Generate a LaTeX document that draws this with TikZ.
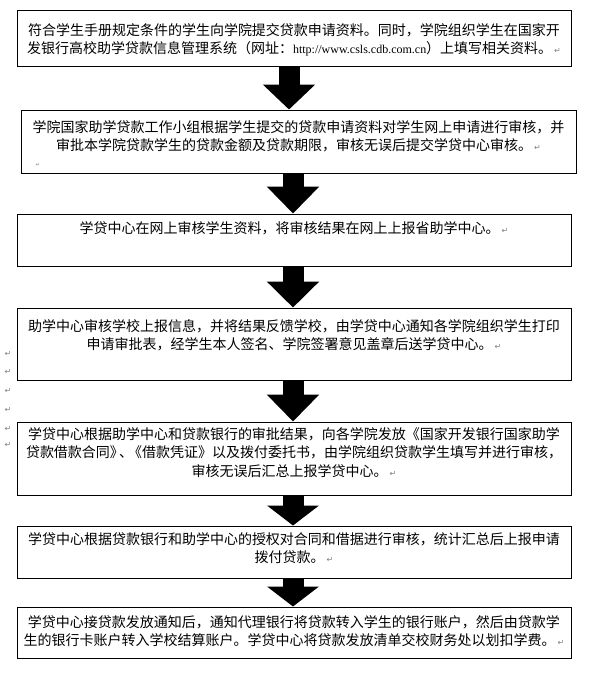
\documentclass[tikz,border=0pt]{standalone}
\usepackage{fontspec}
\setmainfont{Noto Sans CJK SC}
\newfontfamily\urlfont{Liberation Serif}
\newfontfamily\markfont{DejaVu Sans}
\usetikzlibrary{arrows.meta}
\newcommand{\rmk}{\hspace{2pt}{\markfont\fontsize{8}{8}\selectfont\color{gray}↵}}
\newcommand{\pc}{\hspace{-5pt}}
\begin{document}
\begin{tikzpicture}[x=1pt,y=-1pt,
  boxstyle/.style={draw, line width=1pt, inner sep=0pt, rectangle},
  txt/.style={align=center, font=\fontsize{14}{18.5}\selectfont, inner sep=0pt, anchor=north},
  flow/.style={line width=21pt, -{Triangle[width=51pt,length=#1]}},
  margmark/.style={inner sep=0pt, font=\markfont\fontsize{8}{8}\selectfont, text=gray}
]
\useasboundingbox[fill=white] (0,0) rectangle (591,675);
% boxes
\node[boxstyle, minimum width=554pt, minimum height=56pt] (b1) at (294,38) {};
\node[boxstyle, minimum width=555pt, minimum height=63pt] (b2) at (298.5,141.5) {};
\node[boxstyle, minimum width=554pt, minimum height=52pt] (b3) at (294,240) {};
\node[boxstyle, minimum width=554pt, minimum height=72pt] (b4) at (294,344) {};
\node[boxstyle, minimum width=554pt, minimum height=73pt] (b5) at (294,458.5) {};
\node[boxstyle, minimum width=554pt, minimum height=52pt] (b6) at (294,552) {};
\node[boxstyle, minimum width=554pt, minimum height=51pt] (b7) at (294,632.5) {};
% texts
\node[txt] (t1) at (294,23) {符合学生手册规定条件的学生向学院提交贷款申请资料。同时，学院组织学生在国家开\\发银行高校助学贷款信息管理系统（网址：{\urlfont\fontsize{12}{18.5}\selectfont http://www.csls.cdb.com.cn}）上填写相关资料。\rmk};
\node[txt] (t2) at (298.5,120) {学院国家助学贷款工作小组根据学生提交的贷款申请资料对学生网上申请进行审核，并\\审批本学院贷款学生的贷款金额及贷款期限，审核无误后提交学贷中心审核。\rmk};
\node[margmark, font=\markfont\fontsize{5}{5}\selectfont] (m0) at (38,165) {↵};
\node[txt] (t3) at (294,221) {学贷中心在网上审核学生资料，将审核结果在网上上报省助学中心。\rmk};
\node[txt] (t4) at (294,319) {助学中心审核学校上报信息，并将结果反馈学校，由学贷中心通知各学院组织学生打印\\申请审批表，经学生本人签名、学院签署意见盖章后送学贷中心。\rmk};
\node[txt] (t5) at (294,427) {学贷中心根据助学中心和贷款银行的审批结果，向各学院发放《国家开发银行国家助学\\贷款借款合同》\pc、\pc《借款凭证》以及拨付委托书，由学院组织贷款学生填写并进行审核，\\审核无误后汇总上报学贷中心。\rmk};
\node[txt] (t6) at (294,532) {学贷中心根据贷款银行和助学中心的授权对合同和借据进行审核，统计汇总后上报申请\\拨付贷款。\rmk};
\node[txt] (t7) at (294,615) {学贷中心接贷款发放通知后，通知代理银行将贷款转入学生的银行账户，然后由贷款学\\生的银行卡账户转入学校结算账户。学贷中心将贷款发放清单交校财务处以划扣学费。\rmk};
% margin marks
\node[margmark] (m1) at (8,354) {↵};
\node[margmark] (m2) at (8,372) {↵};
\node[margmark] (m3) at (8,391) {↵};
\node[margmark] (m4) at (8,410) {↵};
\node[margmark] (m5) at (8,429) {↵};
\node[margmark] (m6) at (8,445) {↵};
% arrows
\coordinate (ax1) at (289,0);
\coordinate (ax) at (293,0);
\draw[flow=25pt] (b1.south -| ax1) -- (b2.north -| ax1);
\draw[flow=27pt] (b2.south -| ax) -- (b3.north -| ax);
\draw[flow=26pt] (b3.south -| ax) -- (b4.north -| ax);
\draw[flow=27pt] (b4.south -| ax) -- (b5.north -| ax);
\draw[flow=20pt] (b5.south -| ax) -- (b6.north -| ax);
\draw[flow=20pt] (b6.south -| ax) -- (b7.north -| ax);
\end{tikzpicture}
\end{document}
